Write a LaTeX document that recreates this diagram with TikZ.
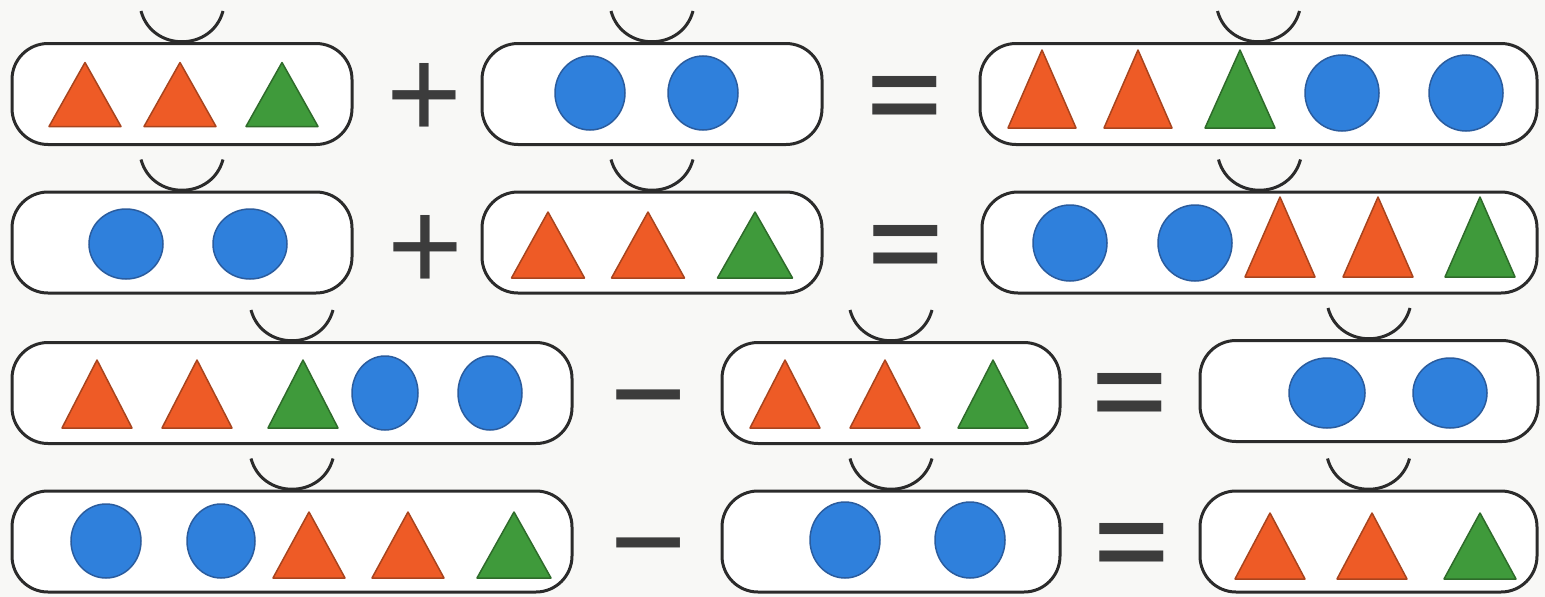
\documentclass[tikz,border=0pt]{standalone}
\usepackage{fontspec}
\setmainfont{Liberation Sans}
\usetikzlibrary{calc}
\definecolor{bordc}{HTML}{2B2B2B}
\definecolor{opc}{HTML}{3C3C3C}
\definecolor{bgc}{HTML}{F8F8F6}
\definecolor{orF}{HTML}{EE5B26}
\definecolor{orD}{HTML}{A8441E}
\definecolor{grF}{HTML}{3F9A3B}
\definecolor{grD}{HTML}{2E6B2A}
\definecolor{blF}{HTML}{2F80DC}
\definecolor{blD}{HTML}{2A5C9E}
\tikzset{
  capsule/.style={draw=bordc, line width=3pt, rounded corners=36pt, fill=white, inner sep=0pt, minimum height=101pt},
  hdl/.style={draw=bordc, line width=3pt},
  op/.style={font=\fontsize{130}{130}\selectfont, text=opc, inner sep=0pt},
  opb/.style={font=\bfseries, text=opc, inner sep=0pt, anchor=base},
  orT/.style={fill=orF, draw=orD, line width=1.5pt, line join=round},
  grT/.style={fill=grF, draw=grD, line width=1.5pt, line join=round},
  blB/.style={fill=blF, draw=blD, line width=1.5pt}
}
% triangle: x, ycenter, width, height, style
\newcommand\tri[5]{\path[#5] ({#1-#3/2},{#2+#4/2}) -- (#1,{#2-#4/2}) -- ({#1+#3/2},{#2+#4/2}) -- cycle;}
% ball: x, y, xr, yr
\newcommand\ball[4]{\path[blB] (#1,#2) ellipse [x radius=#3pt, y radius=#4pt];}
\newcommand\hndl[1]{\draw[hdl] ($(#1.north)+(-41,-31)$) .. controls +(11,41) and +(-11,41) .. ($(#1.north)+(41,-31)$);}
\newcommand\eqsign{\scalebox{1.25}[1]{\fontsize{102}{102}\selectfont =}}
\newcommand\minussign{\scalebox{1.38}[1]{\fontsize{92}{92}\selectfont −}}
\begin{document}
\begin{tikzpicture}[x=1pt,y=-1pt]
\fill[bgc] (0,0) rectangle (1545,597);
\useasboundingbox (0,0) rectangle (1545,597);

% ---------- Row 1 ----------
\node[capsule, minimum width=340pt] (a1) at (182,94) {};
\node[capsule, minimum width=340pt] (b1) at (652,94) {};
\node[capsule, minimum width=557pt] (c1) at (1258.5,94) {};
\hndl{a1}\hndl{b1}\hndl{c1}
\node[op] (p1) at (424,101) {+};
\node[opb] (e1) at (905,129) {\eqsign};
\tri{85}{94.5}{72}{64}{orT}
\tri{180}{94.5}{72}{64}{orT}
\tri{282}{94.5}{72}{64}{grT}
\ball{590}{93}{35}{37}
\ball{703}{93}{35}{37}
\tri{1042}{89}{68}{78}{orT}
\tri{1138}{89}{68}{78}{orT}
\tri{1240}{89}{70}{78}{grT}
\ball{1342}{93}{37}{38}
\ball{1466}{93}{37}{38}

% ---------- Row 2 ----------
\node[capsule, minimum width=340pt] (a2) at (182,242.5) {};
\node[capsule, minimum width=340pt] (b2) at (652,242.5) {};
\node[capsule, minimum width=555pt] (c2) at (1259.5,242.5) {};
\hndl{a2}\hndl{b2}\hndl{c2}
\node[op] (p2) at (425,253) {+};
\node[opb] (e2) at (906,278) {\eqsign};
\ball{126}{244}{37}{35}
\ball{250}{244}{37}{35}
\tri{548}{245}{73}{66}{orT}
\tri{648}{245}{73}{66}{orT}
\tri{755}{245}{75}{66}{grT}
\ball{1070}{243}{37}{38}
\ball{1195}{243}{37}{38}
\tri{1280}{237}{70}{80}{orT}
\tri{1378}{237}{70}{80}{orT}
\tri{1480}{237}{70}{80}{grT}

% ---------- Row 3 ----------
\node[capsule, minimum width=560pt] (a3) at (292,393) {};
\node[capsule, minimum width=338pt] (b3) at (891,393) {};
\node[capsule, minimum width=338pt] (c3) at (1369,391) {};
\hndl{a3}\hndl{b3}\hndl{c3}
\node[opb] (m3) at (649,425) {\minussign};
\node[opb] (e3) at (1130,426.5) {\eqsign};
\tri{97}{394}{70}{68}{orT}
\tri{197}{394}{70}{68}{orT}
\tri{303}{394}{70}{68}{grT}
\ball{385}{393}{33}{37}
\ball{490}{393}{32}{37}
\tri{785}{394}{70}{68}{orT}
\tri{885}{394}{70}{68}{orT}
\tri{993}{394}{70}{68}{grT}
\ball{1327}{393}{38}{35}
\ball{1450}{393}{37}{35}

% ---------- Row 4 ----------
\node[capsule, minimum width=560pt] (a4) at (292,541.5) {};
\node[capsule, minimum width=338pt] (b4) at (891,541.5) {};
\node[capsule, minimum width=337pt] (c4) at (1368.5,541.5) {};
\hndl{a4}\hndl{b4}\hndl{c4}
\node[opb] (m4) at (649,573.5) {\minussign};
\node[opb] (e4) at (1132,576.5) {\eqsign};
\ball{106}{541}{35}{37}
\ball{221}{541}{34}{37}
\tri{309}{545}{72}{66}{orT}
\tri{408}{545}{72}{66}{orT}
\tri{514}{545}{74}{66}{grT}
\ball{845}{540}{35}{38}
\ball{970}{540}{35}{38}
\tri{1270}{546}{70}{66}{orT}
\tri{1372}{546}{70}{66}{orT}
\tri{1480}{546}{72}{66}{grT}
\end{tikzpicture}
\end{document}
